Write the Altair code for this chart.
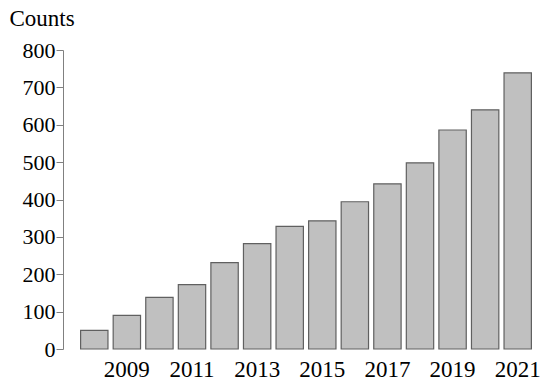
import altair as alt
import pandas as pd

years = [2008, 2009, 2010, 2011, 2012, 2013, 2014, 2015, 2016, 2017, 2018, 2019, 2020, 2021]
counts = [50, 90, 138, 172, 231, 282, 328, 343, 394, 442, 498, 586, 640, 739]
x_tick_labels = [2009, 2011, 2013, 2015, 2017, 2019, 2021]
y_ticks = [0, 100, 200, 300, 400, 500, 600, 700, 800]

df = pd.DataFrame({"year": years, "count": counts})

FONT = "Liberation Serif"

chart = alt.Chart(df).mark_bar(
    color="#c0c0c0", stroke="#606060", strokeWidth=1.2
).encode(
    x=alt.X("year:O",
            scale=alt.Scale(paddingInner=0.16, paddingOuter=0.08),
            axis=alt.Axis(values=x_tick_labels, title=None, domain=False, ticks=False,
                          labelAngle=0, labelFont=FONT, labelFontSize=23,
                          labelColor="black", labelPadding=9)),
    y=alt.Y("count:Q",
            scale=alt.Scale(domain=[0, 800], nice=False),
            axis=alt.Axis(values=y_ticks, title="Counts", grid=False,
                          domainColor="#808080", tickColor="#808080",
                          tickSize=7, offset=15, labelPadding=1,
                          labelExpr="datum.value == 0 ? '0\u00a0\u00a0' : datum.label",
                          labelFont=FONT, labelFontSize=22, labelColor="black",
                          titleAngle=0, titleAlign="left", titleBaseline="alphabetic",
                          titleX=-54, titleY=-25, titleFont=FONT, titleFontSize=23,
                          titleFontWeight="normal", titleColor="black")),
).properties(
    width=456, height=299,
    background="white",
    autosize=alt.AutoSizeParams(type="none"),
    padding={"left": 70, "top": 42, "right": 8, "bottom": 35},
).configure_view(stroke=None)

chart.save("out.html", embed_options={"renderer": "svg", "actions": False})
